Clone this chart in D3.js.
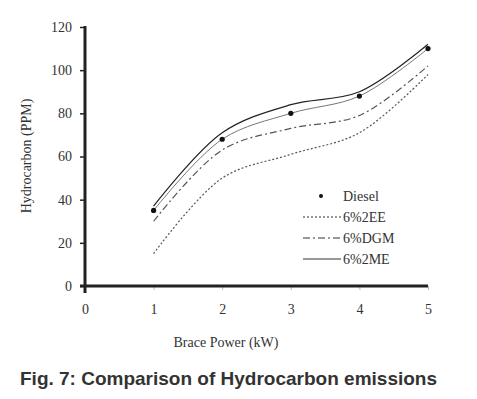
<!DOCTYPE html>
<html>
<head>
<meta charset="utf-8">
<script src="https://cdn.jsdelivr.net/npm/d3@7"></script>
<style>
  body { margin: 0; background: #fff; }
  svg text { font-family: "Liberation Serif", "Times New Roman", serif; fill: #333; }
</style>
</head>
<body>
<svg id="chart" width="477" height="399"></svg>
<script>
// data
var power = [1, 2, 3, 4, 5];
var diesel = [35, 68, 80, 88, 110];
var ee2 = [15, 50, 61, 71, 98];
var dgm = [30, 63, 73, 79, 102];
var me2 = [37, 71, 84, 90, 112];
var xTicks = [0, 1, 2, 3, 4, 5];
var yTicks = [0, 20, 40, 60, 80, 100, 120];

var svg = d3.select("#chart");

var x = d3.scaleLinear().domain([0, 5]).range([85, 428]);
var y = d3.scaleLinear().domain([0, 120]).range([286, 27]);

/* axes */
var yAxis = svg.append("g").attr("transform", "translate(85,0)")
    .call(d3.axisLeft(y).tickValues(yTicks).tickSize(5).tickPadding(8));
yAxis.select(".domain").remove();
yAxis.selectAll(".tick line").attr("stroke", "#222").attr("stroke-width", 1.5);
yAxis.selectAll(".tick text").style("font-size", "14px").attr("fill", "#444");

var xAxis = svg.append("g").attr("transform", "translate(0,286)")
    .call(d3.axisBottom(x).tickValues(xTicks).tickFormat(d3.format("d")).tickSize(4).tickPadding(14));
xAxis.select(".domain").remove();
xAxis.selectAll(".tick line").attr("stroke", "#bbb").attr("stroke-width", 1);
xAxis.selectAll(".tick text").style("font-size", "14px").attr("fill", "#444");

svg.append("line").attr("x1", 85).attr("x2", 85).attr("y1", y(120) - 1).attr("y2", 293)
    .attr("stroke", "#222").attr("stroke-width", 3);
svg.append("line").attr("x1", 80).attr("x2", x(5)).attr("y1", y(0)).attr("y2", y(0))
    .attr("stroke", "#222").attr("stroke-width", 3);

/* axis titles */
svg.append("text").attr("x", 226).attr("y", 347).attr("text-anchor", "middle")
    .style("font-size", "14px").attr("fill", "#444").text("Brace Power (kW)");
svg.append("text").attr("transform", "translate(31,156) rotate(-90)")
    .attr("text-anchor", "middle").style("font-size", "14px").attr("fill", "#444")
    .text("Hydrocarbon (PPM)");

/* series */
var line = d3.line()
    .x(function(d, i) { return x(power[i]); })
    .y(function(d) { return y(d); })
    .curve(d3.curveCatmullRom.alpha(0.5));

var series = [
  { name: "6%2EE", values: ee2, dash: "2,2", color: "#555", width: 1.2 },
  { name: "6%DGM", values: dgm, dash: "7,3,2,3", color: "#555", width: 1.2 },
  { name: "6%2ME", values: me2, dash: null, color: "#222", width: 1.2 },
  { name: "Diesel", values: diesel, dash: null, color: "#777", width: 1 }
];

series.forEach(function(s) {
  svg.append("path").datum(s.values)
      .attr("d", line)
      .attr("fill", "none")
      .attr("stroke", s.color)
      .attr("stroke-width", s.width)
      .attr("stroke-dasharray", s.dash);
});

svg.selectAll("circle.diesel").data(diesel).enter()
    .append("circle").attr("class", "diesel")
    .attr("cx", function(d, i) { return x(power[i]); })
    .attr("cy", function(d) { return y(d); })
    .attr("r", 2.6).attr("fill", "#111");

/* legend */
var legendItems = ["Diesel", "6%2EE", "6%DGM", "6%2ME"];
var legendDash = [null, "2,2", "7,3,2,3", null];
var lg = svg.append("g").attr("transform", "translate(300,197)");
legendItems.forEach(function(name, i) {
  var g = lg.append("g").attr("transform", "translate(0," + (i * 21) + ")");
  if (i === 0) {
    g.append("circle").attr("cx", 21).attr("cy", -1).attr("r", 2).attr("fill", "#111");
  } else {
    g.append("line").attr("x1", 3).attr("x2", 41).attr("y1", -1).attr("y2", -1)
        .attr("stroke", "#333").attr("stroke-width", 1.2)
        .attr("stroke-dasharray", legendDash[i]);
  }
  g.append("text").attr("x", 43).attr("y", 4).style("font-size", "14px")
      .attr("fill", "#444").text(name);
});

/* caption */
svg.append("text").attr("x", 20).attr("y", 385)
    .style("font-family", "'Liberation Sans', Arial, sans-serif")
    .style("font-weight", "bold").style("font-size", "19px")
    .attr("fill", "#222")
    .text("Fig. 7: Comparison of Hydrocarbon emissions");
</script>
</body>
</html>
